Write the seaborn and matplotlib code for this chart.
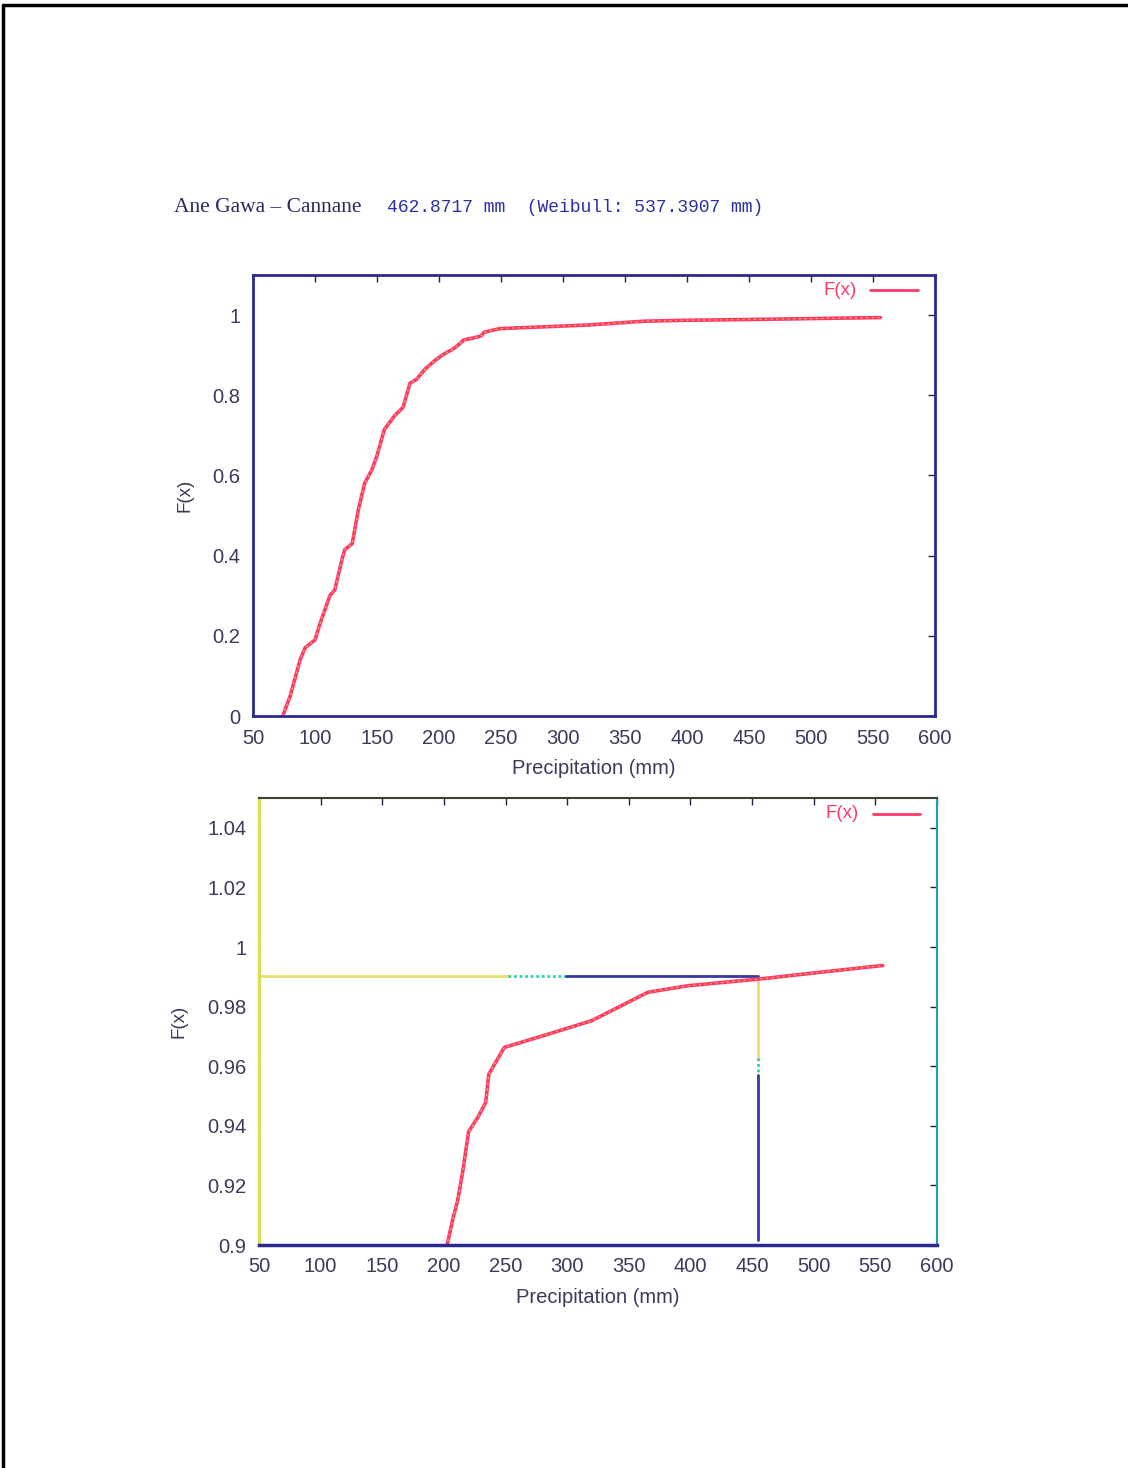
import numpy as np
import pandas as pd
import matplotlib
matplotlib.use("Agg")
import matplotlib.pyplot as plt
from matplotlib.lines import Line2D
import seaborn as sns

precip = [74, 80, 88, 92, 100, 104, 112, 116, 121.7, 124, 130, 135, 140, 146,
          150, 156, 164.5, 171, 176.6, 182, 188.7, 196, 202.6, 207.4, 211,
          215.3, 220, 227.3, 233.9, 236.4, 249, 289, 320, 336.3, 365.4, 398,
          457, 507, 556]
fx = [0, 0.05, 0.14, 0.17, 0.19, 0.23, 0.30, 0.315, 0.39, 0.415, 0.43, 0.515,
      0.58, 0.615, 0.65, 0.715, 0.75, 0.77, 0.83, 0.84, 0.865, 0.885, 0.90,
      0.909, 0.9146, 0.9247, 0.938, 0.9427, 0.9478, 0.9573, 0.9663, 0.9713,
      0.9753, 0.9787, 0.9848, 0.987, 0.9893, 0.9916, 0.9938]

# 99% quantile guide lines (lower plot)
q_level = 0.9904
q_value = 455
hline_breaks = [50, 252, 299, q_value]
vline_breaks = [q_level, 0.9628, 0.957, 0.9017]

title_site = "Ane Gawa \u2013 Cannane"
title_vals = "462.8717 mm  (Weibull: 537.3907 mm)"

x_ticks = list(range(50, 601, 50))
y_ticks_top = [0, 0.2, 0.4, 0.6, 0.8, 1]
y_labels_top = ["0", "0.2", "0.4", "0.6", "0.8", "1"]
y_ticks_low = [0.9, 0.92, 0.94, 0.96, 0.98, 1, 1.02, 1.04]
y_labels_low = ["0.9", "0.92", "0.94", "0.96", "0.98", "1", "1.02", "1.04"]

df = pd.DataFrame({"x": precip, "F": fx})

sns.set_style("white")
plt.rcParams['font.family'] = ['Liberation Sans', 'DejaVu Sans']

W, H = 1128, 1468
fig = plt.figure(figsize=(W / 100, H / 100), dpi=100)

txt_col = '#3a3a5c'
navy = '#2a2a90'
red = '#ff3a6a'
yel = '#f0d040'


def px_rect(l, t, r, b):
    return [l / W, 1 - b / H, (r - l) / W, (b - t) / H]


def curve(ax):
    sns.lineplot(data=df, x="x", y="F", ax=ax, color=red, lw=2.6,
                 sort=False, estimator=None, legend=False)
    ax.plot(df.x, df.F, color=yel, lw=0.9, ls=(0, (1.5, 3)), alpha=0.9)


def style(ax, yt, yl, ylim):
    ax.set_xlim(50, 600)
    ax.set_ylim(*ylim)
    ax.set_xticks(x_ticks)
    ax.set_xticklabels([str(v) for v in x_ticks])
    ax.set_yticks(yt)
    ax.set_yticklabels(yl)
    ax.tick_params(direction='in', top=True, right=True, length=5,
                   width=1, color='#222244', labelsize=14.5,
                   labelcolor=txt_col, pad=9)
    ax.set_xlabel("Precipitation (mm)", fontsize=14.5, color=txt_col,
                  labelpad=8)
    ax.set_ylabel("F(x)", fontsize=13.5, color=txt_col, labelpad=14)
    # legend entry like gnuplot's key
    ax.text(0.885, 0.965, "F(x)", transform=ax.transAxes, color=red,
            fontsize=13.5, ha='right', va='center')
    ax.plot([0.905, 0.975], [0.965, 0.965], transform=ax.transAxes,
            color=red, lw=2)


# upper panel
ax1 = fig.add_axes(px_rect(253, 275, 935, 716))
curve(ax1)
style(ax1, y_ticks_top, y_labels_top, (0, 1.1))
for s in ax1.spines.values():
    s.set_color(navy)
    s.set_linewidth(2)
ax1.axhline(0, xmin=0, xmax=1, color='#30c080', lw=1, ls=(0, (1, 2)))

# lower panel
ax2 = fig.add_axes(px_rect(259, 798, 937, 1245))
curve(ax2)
style(ax2, y_ticks_low, y_labels_low, (0.9, 1.05))
ax2.spines['left'].set_color('#dede50')
ax2.spines['left'].set_linewidth(2.5)
ax2.spines['bottom'].set_color(navy)
ax2.spines['bottom'].set_linewidth(2.5)
ax2.spines['top'].set_color('#404030')
ax2.spines['top'].set_linewidth(1.5)
ax2.spines['right'].set_color('#20a0b0')
ax2.spines['right'].set_linewidth(1.5)
ax2.spines['right'].set_linestyle((0, (1, 1)))

seg_cols = ['#e6e070', '#30d0b0', '#3838a8']
seg_ls = ['-', (0, (1, 1)), '-']
for i in range(3):
    ax2.plot(hline_breaks[i:i + 2], [q_level, q_level], color=seg_cols[i],
             ls=seg_ls[i], lw=2, zorder=1)
    ax2.plot([q_value, q_value], vline_breaks[i:i + 2], color=seg_cols[i],
             ls=seg_ls[i], lw=2, zorder=1)

# title line
fig.text(174 / W, 1 - 208 / H, title_site, fontsize=15.5, color='#2a2a60',
         family=['Liberation Serif', 'DejaVu Serif'], ha='left', va='center')
fig.text(387 / W, 1 - 208 / H, title_vals, fontsize=13, color='#2a30a0',
         family=['Liberation Mono', 'DejaVu Sans Mono'], ha='left',
         va='center')

# page border (left and top only)
fig.add_artist(Line2D([3 / W, 3 / W], [0, 1 - 5 / H], color='black', lw=2.5))
fig.add_artist(Line2D([3 / W, 1], [1 - 5 / H, 1 - 5 / H], color='black',
                      lw=2.5))

fig.savefig("out.png", dpi=100, facecolor='white')
